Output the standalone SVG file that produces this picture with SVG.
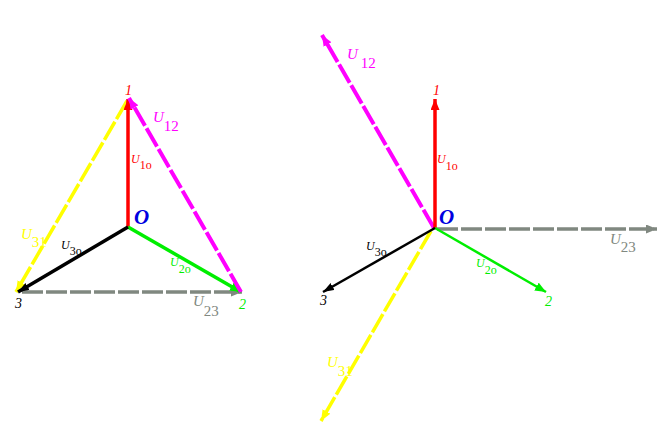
<svg xmlns="http://www.w3.org/2000/svg" width="667" height="437" viewBox="0 0 667 437">
<style>
text{font-family:"Liberation Serif","Times New Roman",serif}
.big{font-size:15px;font-style:italic}
.sb{font-size:15px;font-style:normal}
.small{font-size:12px;font-style:italic}
.ss{font-size:12px;font-style:normal}
.pt{font-size:14px;font-style:italic}
.o{font-size:21px;font-style:italic;font-weight:bold;fill:#0000e0}
.red{fill:#ff0000}.green{fill:#00ee00}.black{fill:#000}.mag{fill:#ff00ff}.yel{fill:#ffff00}.gray{fill:#808880}
.l{fill:none}
.dash{stroke-dasharray:21 3}
</style>
<defs>
<marker id="mr" markerUnits="userSpaceOnUse" markerWidth="12" markerHeight="10" refX="11" refY="4.5" orient="auto"><path d="M0 0L11 4.5L0 9z" fill="#ff0000"/></marker>
<marker id="mg" markerUnits="userSpaceOnUse" markerWidth="12" markerHeight="10" refX="11" refY="4.5" orient="auto"><path d="M0 0L11 4.5L0 9z" fill="#00ee00"/></marker>
<marker id="mk" markerUnits="userSpaceOnUse" markerWidth="12" markerHeight="10" refX="11" refY="4" orient="auto"><path d="M0 0L11 4L0 8z" fill="#000"/></marker>
<marker id="mm" markerUnits="userSpaceOnUse" markerWidth="12" markerHeight="10" refX="11" refY="4.5" orient="auto"><path d="M0 0L11 4.5L0 9z" fill="#ff00ff"/></marker>
<marker id="my" markerUnits="userSpaceOnUse" markerWidth="12" markerHeight="10" refX="11" refY="4.5" orient="auto"><path d="M0 0L11 4.5L0 9z" fill="#ffff00"/></marker>
<marker id="ma" markerUnits="userSpaceOnUse" markerWidth="12" markerHeight="10" refX="11" refY="4.5" orient="auto"><path d="M0 0L11 4.5L0 9z" fill="#808880"/></marker>
</defs>
<g id="connectors" class="l">
<line class="dash" x1="127" y1="101" x2="16" y2="292" stroke="#ffff00" stroke-width="3.5" marker-end="url(#my)"/>
<line class="dash" x1="22" y1="292" x2="242" y2="292" stroke="#808880" stroke-width="3.5" marker-end="url(#ma)"/>
<line x1="128" y1="227" x2="128" y2="99" stroke="#ff0000" stroke-width="3.5" marker-end="url(#mr)"/>
<line x1="128" y1="227" x2="241" y2="292" stroke="#00ee00" stroke-width="3.5" marker-end="url(#mg)"/>
<line x1="128" y1="227" x2="18" y2="292" stroke="#000" stroke-width="3.5" marker-end="url(#mk)"/>
<line class="dash" x1="241" y1="292" x2="129" y2="98" stroke="#ff00ff" stroke-width="4" marker-end="url(#mm)"/>
<line class="dash" x1="434" y1="228" x2="322" y2="35" stroke="#ff00ff" stroke-width="4" marker-end="url(#mm)"/>
<line class="dash" x1="431" y1="231" x2="321" y2="421" stroke="#ffff00" stroke-width="3.5" marker-end="url(#my)"/>
<line class="dash" x1="437" y1="229" x2="657" y2="229" stroke="#808880" stroke-width="3.5" marker-end="url(#ma)"/>
<line x1="435" y1="228" x2="435" y2="99" stroke="#ff0000" stroke-width="3.5" marker-end="url(#mr)"/>
<line x1="435" y1="228" x2="546" y2="292" stroke="#00ee00" stroke-width="2.5" marker-end="url(#mg)"/>
<line x1="435" y1="228" x2="323" y2="292" stroke="#000" stroke-width="2.5" marker-end="url(#mk)"/>
</g>
<g id="left-labels">
<text class="pt red" x="125" y="95">1</text>
<text class="pt green" x="239" y="309">2</text>
<text class="pt black" x="15" y="308">3</text>
<text class="o" x="134" y="224">O</text>
<text class="big mag" x="153" y="122">U<tspan class="sb" dy="9">12</tspan></text>
<text class="big gray" x="193" y="306">U<tspan class="sb" dy="10">23</tspan></text>
<text class="big yel" x="21" y="239">U<tspan class="sb" dy="8">31</tspan></text>
<text class="small red" x="131" y="163">U<tspan class="ss" dy="6">1o</tspan></text>
<text class="small green" x="170" y="266">U<tspan class="ss" dy="7">2o</tspan></text>
<text class="small black" x="61" y="249">U<tspan class="ss" dy="6">3o</tspan></text>
</g>
<g id="right-labels">
<text class="pt red" x="433" y="95">1</text>
<text class="pt green" x="545" y="306">2</text>
<text class="pt black" x="320" y="305">3</text>
<text class="o" x="439" y="224">O</text>
<text class="big mag" x="347" y="59">U<tspan class="sb" dx="3" dy="9">12</tspan></text>
<text class="big gray" x="610" y="244">U<tspan class="sb" dy="8">23</tspan></text>
<text class="big yel" x="327" y="367">U<tspan class="sb" dy="9">31</tspan></text>
<text class="small red" x="437" y="163">U<tspan class="ss" dy="7">1o</tspan></text>
<text class="small green" x="476" y="267">U<tspan class="ss" dy="7">2o</tspan></text>
<text class="small black" x="366" y="250">U<tspan class="ss" dy="6">3o</tspan></text>
</g>
</svg>
